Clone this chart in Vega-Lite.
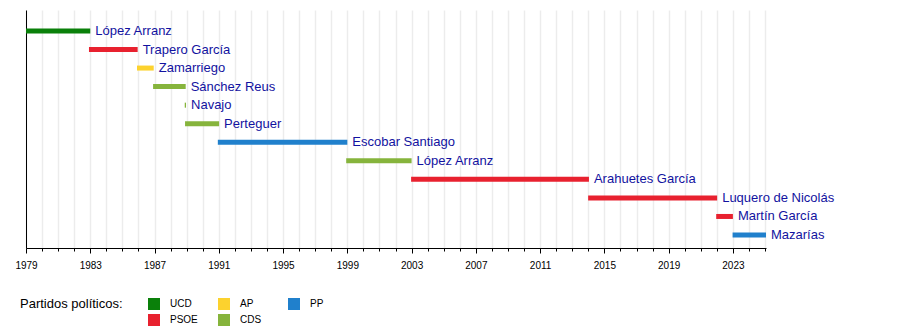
{
  "$schema": "https://vega.github.io/schema/vega-lite/v6.json",
  "width": 740,
  "height": 238,
  "autosize": {"type": "none"},
  "padding": {"left": 26, "top": 10, "right": 134, "bottom": 82},
  "background": "white",
  "config": {"view": {"stroke": null}, "font": "Liberation Sans"},
  "data": {
    "values": [
      {"row": 1, "name": "López Arranz", "party": "UCD", "start": 1979.0, "end": 1983.0},
      {"row": 2, "name": "Trapero García", "party": "PSOE", "start": 1982.92, "end": 1985.95},
      {"row": 3, "name": "Zamarriego", "party": "AP", "start": 1985.91, "end": 1986.95},
      {"row": 4, "name": "Sánchez Reus", "party": "CDS", "start": 1986.91, "end": 1988.94},
      {"row": 5, "name": "Navajo", "party": "CDS", "start": 1988.88, "end": 1988.96},
      {"row": 6, "name": "Perteguer", "party": "CDS", "start": 1988.9, "end": 1991.02},
      {"row": 7, "name": "Escobar Santiago", "party": "PP", "start": 1990.94, "end": 1999.0},
      {"row": 8, "name": "López Arranz", "party": "CDS", "start": 1998.93, "end": 2003.0},
      {"row": 9, "name": "Arahuetes García", "party": "PSOE", "start": 2002.97, "end": 2014.04},
      {"row": 10, "name": "Luquero de Nicolás", "party": "PSOE", "start": 2013.99, "end": 2022.02},
      {"row": 11, "name": "Martín García", "party": "PSOE", "start": 2021.96, "end": 2023.0},
      {"row": 12, "name": "Mazarías", "party": "PP", "start": 2022.98, "end": 2025.06}
    ]
  },
  "layer": [
    {
      "mark": {"type": "bar", "height": 5},
      "encoding": {
        "x": {
          "field": "start",
          "type": "quantitative",
          "scale": {"domain": [1979, 2025.06], "nice": false, "zero": false, "padding": 0},
          "axis": {
            "title": null,
            "values": [1979,1980,1981,1982,1983,1984,1985,1986,1987,1988,1989,1990,1991,1992,1993,1994,1995,1996,1997,1998,1999,2000,2001,2002,2003,2004,2005,2006,2007,2008,2009,2010,2011,2012,2013,2014,2015,2016,2017,2018,2019,2020,2021,2022,2023,2024,2025],
            "tickCount": 100,
            "format": "d",
            "labelExpr": "(datum.value - 1979) % 4 == 0 ? datum.label : ''",
            "labelFontSize": 10,
            "labelColor": "black",
            "labelPadding": 7,
            "labelOverlap": false,
            "labelFlush": false,
            "labelBound": false,
            "tickColor": "black",
            "tickSize": {"condition": {"test": "(datum.value - 1979) % 4 == 0", "value": 5}, "value": 3},
            "domainColor": "black",
            "grid": true,
            "gridColor": "#ececec",
            "gridWidth": 1.5
          }
        },
        "x2": {"field": "end"},
        "y": {
          "field": "row",
          "type": "quantitative",
          "scale": {"domain": [-0.13, 12.7], "reverse": true, "nice": false, "zero": false, "padding": 0},
          "axis": {"title": null, "labels": false, "ticks": false, "grid": false, "domainColor": "black"}
        },
        "color": {
          "field": "party",
          "type": "nominal",
          "scale": {
            "domain": ["UCD", "AP", "PP", "PSOE", "CDS"],
            "range": ["#0a800a", "#fcd22e", "#2080cc", "#e8212f", "#86b43c"]
          },
          "legend": {
            "title": "Partidos políticos:",
            "orient": "none",
            "legendX": -6,
            "legendY": 288,
            "direction": "horizontal",
            "columns": 3,
            "titleOrient": "left",
            "titleAnchor": "start",
            "titleFontSize": 13,
            "titleFontWeight": "normal",
            "titleColor": "black",
            "titlePadding": 25,
            "titleBaseline": "top",
            "symbolType": "square",
            "symbolSize": 144,
            "symbolStrokeWidth": 0,
            "symbolOpacity": 1,
            "labelFontSize": 10,
            "labelColor": "black",
            "labelOffset": 10,
            "columnPadding": 20,
            "rowPadding": 4,
            "gridAlign": "all",
            "padding": 0
          }
        }
      }
    },
    {
      "mark": {"type": "text", "align": "left", "baseline": "middle", "dx": 5, "fontSize": 13, "color": "#1212a0"},
      "encoding": {
        "x": {"field": "end", "type": "quantitative"},
        "y": {"field": "row", "type": "quantitative"},
        "text": {"field": "name"}
      }
    }
  ]
}
